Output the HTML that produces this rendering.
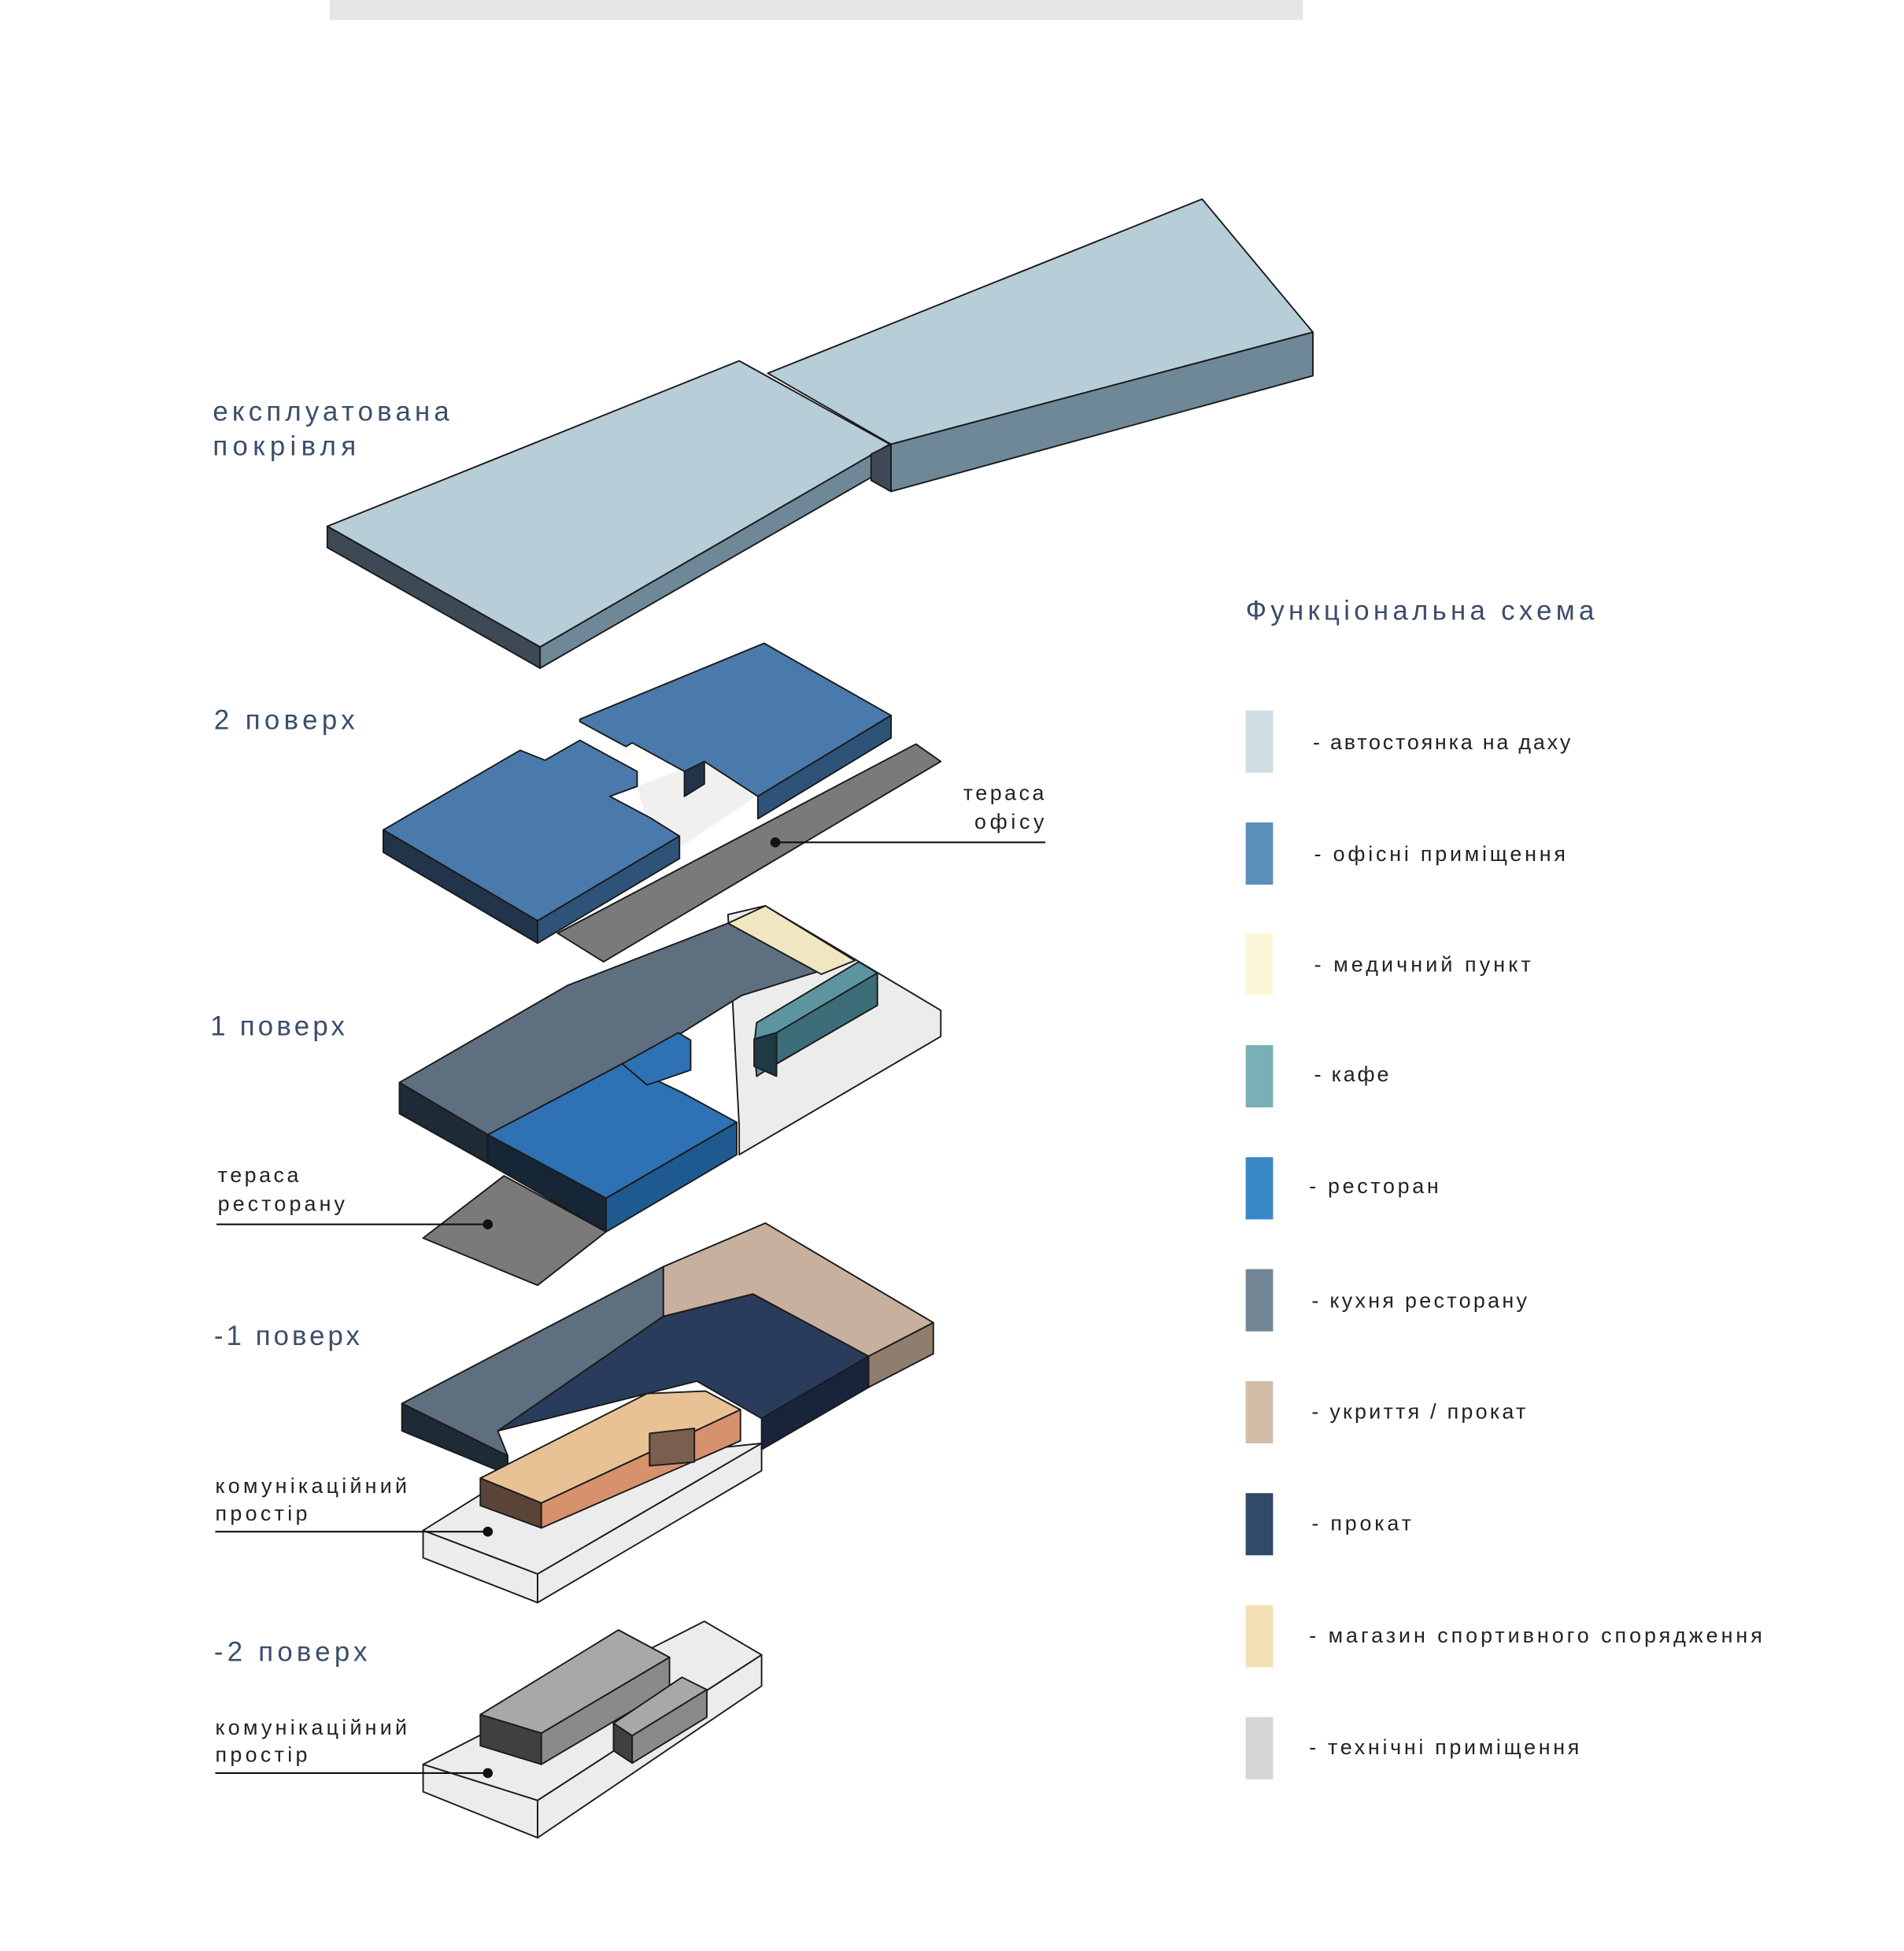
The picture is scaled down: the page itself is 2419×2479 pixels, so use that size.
<!DOCTYPE html>
<html><head><meta charset="utf-8"><style>
html,body{margin:0;padding:0;background:#fff;}
svg{display:block;}
text{font-family:"Liberation Sans",sans-serif;}
.t{fill:#3a4e6b;font-size:22px;}
.s{fill:#222;font-size:17px;}
.l{fill:#222;font-size:17px;}
</style></head><body>
<svg width="2419" height="2479" viewBox="0 0 1530 1568" preserveAspectRatio="none" xmlns="http://www.w3.org/2000/svg">
<g stroke="#1a1a1a" stroke-width="1.2" stroke-linejoin="round">
<rect x="265" y="0" width="782" height="16" fill="#e6e6e6" stroke="none"/>
<!-- roof -->
<polygon points="617,300 966,160 1055,267 716,357" fill="#b7cdd7"/>
<polygon points="716,357 1055,267 1055,302 716,395" fill="#6e8898"/>
<polygon points="263,423 594,290 715,357 434,520" fill="#b7cdd7"/>
<polygon points="263,423 434,520 434,537 263,440" fill="#3d4a55"/>
<polygon points="434,520 715,357 715,375 434,537" fill="#6e8898"/>
<polygon points="700,365 716,357 716,395 700,386" fill="#3d4a55"/>
<!-- 2nd floor -->
<polygon points="448,750 736,598 756,612 485,773" fill="#7a7a7a"/>
<polygon points="512,632 565,612 608,640 548,680 520,660" fill="#f0f0f0" stroke="none"/>
<polygon points="466,578 614,517 716,575 609,640 566,612 550,620 508,597 503,600 466,580" fill="#4a7aab"/>
<polygon points="609,640 716,575 716,593 609,658" fill="#2e5378"/>
<polygon points="550,620 566,612 566,630 550,640" fill="#22344a"/>
<polygon points="308,667 418,603 438,611 466,595 512,620 512,632 490,640 522,657 546,672 432,740" fill="#4a7aab"/>
<polygon points="308,667 432,740 432,758 308,685" fill="#22344a"/>
<polygon points="432,740 546,672 546,690 432,758" fill="#2e5378"/>
<!-- 1st floor -->
<polygon points="585,735 615,728 756,812 756,833 594,928 594,905" fill="#ececec"/>
<polygon points="321,870 456,792 585,742 660,780 596,800 548,830 500,855 392,912" fill="#5e6f7f"/>
<polygon points="321,870 392,912 392,935 321,895" fill="#1e2a36"/>
<polygon points="585,742 615,728 687,772 660,783" fill="#f0e6c0"/>
<polygon points="608,822 690,773 705,782 705,808 624,855 608,865 606,840" fill="#5c95a0"/>
<polygon points="624,830 705,782 705,808 624,855" fill="#3c6d78"/>
<polygon points="606,835 624,830 624,865 606,857" fill="#1e3a44"/>
<polygon points="392,912 500,855 548,878 592,902 487,963" fill="#2e72b5"/>
<polygon points="500,855 545,830 555,836 555,860 520,872" fill="#2e72b5"/>
<polygon points="392,912 487,963 487,990 392,935" fill="#172636"/>
<polygon points="487,963 592,902 592,928 487,990" fill="#1e5a90"/>
<polygon points="340,995 405,945 487,990 432,1033" fill="#7a7a7a"/>
<!-- -1 floor -->
<polygon points="340,1230 420,1180 612,1160 432,1265" fill="#ececec"/>
<polygon points="340,1230 432,1265 432,1288 340,1252" fill="#ececec"/>
<polygon points="432,1265 612,1160 612,1182 432,1288" fill="#ececec"/>
<polygon points="533,1018 615,983 750,1063 698,1090 605,1040 533,1058" fill="#c7b09e"/>
<polygon points="698,1090 750,1063 750,1088 698,1115" fill="#8f7d6e"/>
<polygon points="323,1128 533,1018 533,1058 400,1150 408,1170" fill="#5e6f7f"/>
<polygon points="323,1128 408,1170 408,1185 323,1150" fill="#1e2a36"/>
<polygon points="400,1150 533,1058 605,1040 698,1090 612,1140 560,1110 520,1120" fill="#2a3c5c"/>
<polygon points="612,1140 698,1090 698,1115 612,1165" fill="#18243a"/>
<polygon points="386,1188 520,1120 567,1118 595,1133 435,1208" fill="#e8c195"/>
<polygon points="386,1188 435,1208 435,1228 386,1210" fill="#5a4437"/>
<polygon points="435,1208 595,1133 595,1158 435,1228" fill="#d6926c"/>
<polygon points="522,1152 558,1148 558,1175 522,1178" fill="#7a5e4e"/>
<!-- -2 floor -->
<polygon points="340,1418 385,1395 566,1303 612,1330 432,1447" fill="#ececec"/>
<polygon points="340,1418 432,1447 432,1477 340,1440" fill="#ececec"/>
<polygon points="432,1447 612,1330 612,1355 432,1477" fill="#ececec"/>
<polygon points="386,1378 497,1310 538,1332 435,1393" fill="#a8a8a8"/>
<polygon points="386,1378 435,1393 435,1418 386,1403" fill="#404040"/>
<polygon points="435,1393 538,1332 538,1357 435,1418" fill="#8a8a8a"/>
<polygon points="493,1385 548,1348 568,1358 508,1395" fill="#a8a8a8"/>
<polygon points="493,1385 508,1395 508,1417 493,1407" fill="#404040"/>
<polygon points="508,1395 568,1358 568,1380 508,1417" fill="#8a8a8a"/>
</g>
<!-- callouts -->
<g stroke="#111" stroke-width="1.3">
<line x1="623" y1="677" x2="840" y2="677"/>
<line x1="174" y1="984" x2="392" y2="984"/>
<line x1="173" y1="1231" x2="392" y2="1231"/>
<line x1="173" y1="1425" x2="392" y2="1425"/>
</g>
<g fill="#111"><circle cx="623" cy="677" r="4"/><circle cx="392" cy="984" r="4"/><circle cx="392" cy="1231" r="4"/><circle cx="392" cy="1425" r="4"/></g>
<g lengthAdjust="spacing">
<text class="t" x="171" y="338" textLength="190" lengthAdjust="spacing">експлуатована</text>
<text class="t" x="171" y="366" textLength="115" lengthAdjust="spacing">покрівля</text>
<text class="t" x="172" y="586" textLength="113" lengthAdjust="spacing">2 поверх</text>
<text class="t" x="169" y="832" textLength="108" lengthAdjust="spacing">1 поверх</text>
<text class="t" x="172" y="1081" textLength="117" lengthAdjust="spacing">-1 поверх</text>
<text class="t" x="172" y="1335" textLength="123" lengthAdjust="spacing">-2 поверх</text>
<text class="l" x="774" y="643" textLength="65" lengthAdjust="spacing">тераса</text>
<text class="l" x="783" y="666" textLength="56" lengthAdjust="spacing">офісу</text>
<text class="l" x="175" y="950" textLength="65" lengthAdjust="spacing">тераса</text>
<text class="l" x="175" y="973" textLength="102" lengthAdjust="spacing">ресторану</text>
<text class="l" x="173" y="1200" textLength="154" lengthAdjust="spacing">комунікаційний</text>
<text class="l" x="173" y="1222" textLength="74" lengthAdjust="spacing">простір</text>
<text class="l" x="173" y="1394" textLength="154" lengthAdjust="spacing">комунікаційний</text>
<text class="l" x="173" y="1416" textLength="74" lengthAdjust="spacing">простір</text>
<text class="t" x="1001" y="498" textLength="280" lengthAdjust="spacing">Функціональна схема</text>
</g>
<rect x="1001" y="571" width="22" height="50" fill="#d0dde4"/>
<rect x="1001" y="661" width="22" height="50" fill="#5b8fbb"/>
<rect x="1001" y="750" width="22" height="50" fill="#fcf7d8"/>
<rect x="1001" y="840" width="22" height="50" fill="#78b0b6"/>
<rect x="1001" y="930" width="22" height="50" fill="#3987c4"/>
<rect x="1001" y="1020" width="22" height="50" fill="#748695"/>
<rect x="1001" y="1110" width="22" height="50" fill="#d2bda9"/>
<rect x="1001" y="1200" width="22" height="50" fill="#314a67"/>
<rect x="1001" y="1290" width="22" height="50" fill="#f3dfb4"/>
<rect x="1001" y="1380" width="22" height="50" fill="#d6d6d6"/>
<text class="s" x="1055" y="602" textLength="207" lengthAdjust="spacing">- автостоянка на даху</text>
<text class="s" x="1056" y="692" textLength="202" lengthAdjust="spacing">- офісні приміщення</text>
<text class="s" x="1056" y="781" textLength="174" lengthAdjust="spacing">- медичний пункт</text>
<text class="s" x="1056" y="869" textLength="60" lengthAdjust="spacing">- кафе</text>
<text class="s" x="1052" y="959" textLength="104" lengthAdjust="spacing">- ресторан</text>
<text class="s" x="1054" y="1051" textLength="173" lengthAdjust="spacing">- кухня ресторану</text>
<text class="s" x="1054" y="1140" textLength="172" lengthAdjust="spacing">- укриття / прокат</text>
<text class="s" x="1054" y="1230" textLength="80" lengthAdjust="spacing">- прокат</text>
<text class="s" x="1052" y="1320" textLength="364" lengthAdjust="spacing">- магазин спортивного спорядження</text>
<text class="s" x="1052" y="1410" textLength="217" lengthAdjust="spacing">- технічні приміщення</text>
</svg>
</body></html>
